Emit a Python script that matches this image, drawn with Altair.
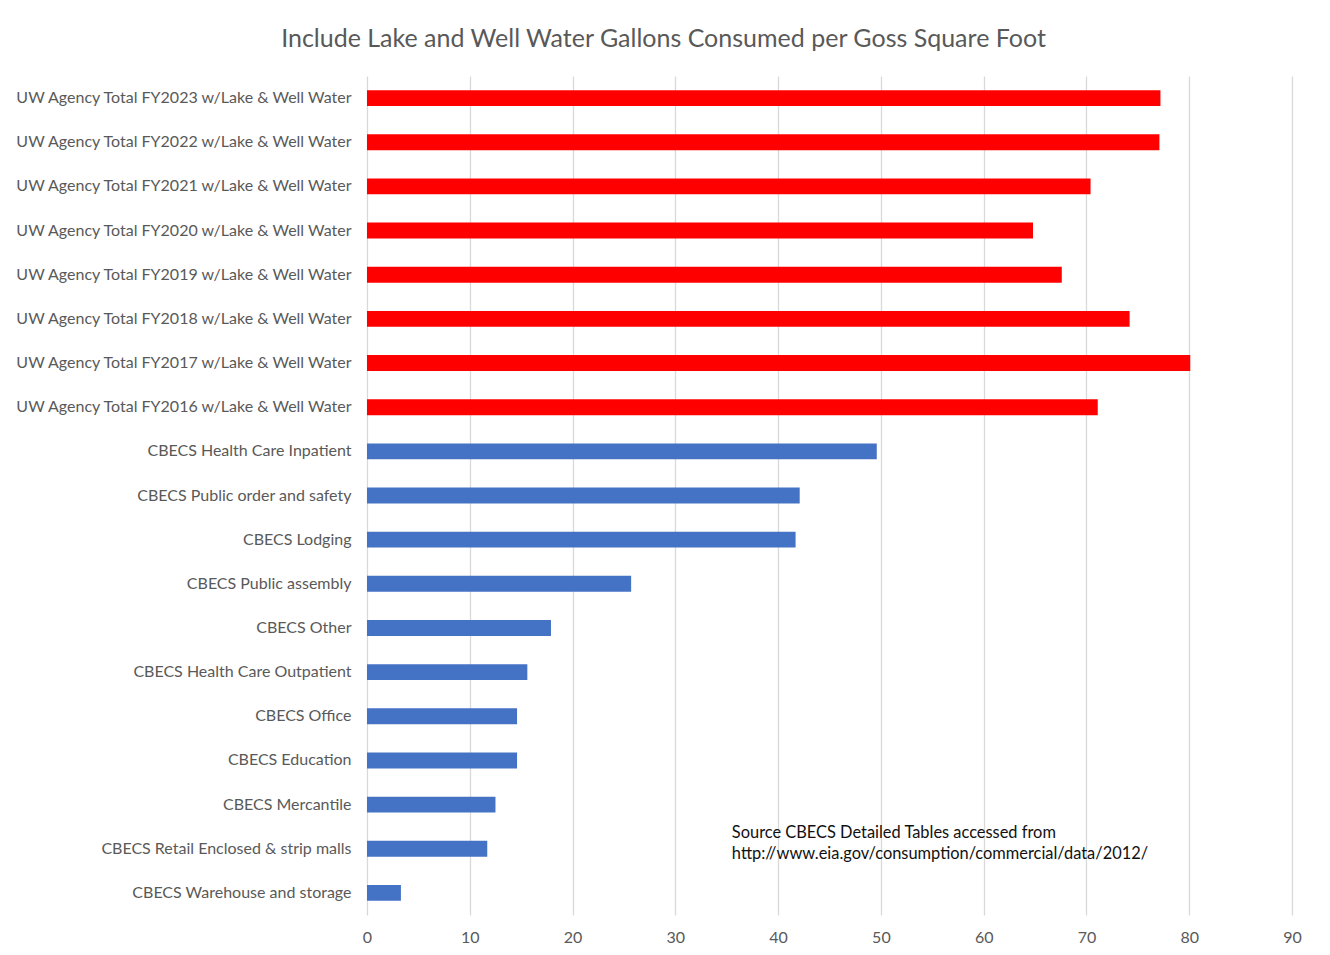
import altair as alt
import pandas as pd

categories = [
    "UW Agency Total FY2023 w/Lake & Well Water",
    "UW Agency Total FY2022 w/Lake & Well Water",
    "UW Agency Total FY2021 w/Lake & Well Water",
    "UW Agency Total FY2020 w/Lake & Well Water",
    "UW Agency Total FY2019 w/Lake & Well Water",
    "UW Agency Total FY2018 w/Lake & Well Water",
    "UW Agency Total FY2017 w/Lake & Well Water",
    "UW Agency Total FY2016 w/Lake & Well Water",
    "CBECS Health Care Inpatient",
    "CBECS Public order and safety",
    "CBECS Lodging",
    "CBECS Public assembly",
    "CBECS Other",
    "CBECS Health Care Outpatient",
    "CBECS Office",
    "CBECS Education",
    "CBECS Mercantile",
    "CBECS Retail Enclosed & strip malls",
    "CBECS Warehouse and storage",
]
values = [77.2, 77.1, 70.4, 64.8, 67.6, 74.2, 80.1, 71.1,
          49.6, 42.1, 41.7, 25.7, 17.9, 15.6, 14.6, 14.6, 12.5, 11.7, 3.3]
groups = ["UW"] * 8 + ["CBECS"] * 11
x_ticks = [0, 10, 20, 30, 40, 50, 60, 70, 80, 90]
note_lines = ["Source CBECS Detailed Tables accessed from",
              "http://www.eia.gov/consumption/commercial/data/2012/"]

df = pd.DataFrame({"category": categories, "value": values, "group": groups})
note_df = pd.DataFrame({"note": [" ".join(note_lines)]})

FONT = "Lato"
GRAY = "#595959"

y_enc = alt.Y("category:N", sort=categories, title=None,
              scale=alt.Scale(paddingInner=0.64, paddingOuter=0.32),
              axis=alt.Axis(ticks=False, domain=False, labelFontSize=16,
                            labelColor=GRAY, labelFont=FONT, labelPadding=16,
                            labelLimit=400, grid=False))
x_enc = alt.X("value:Q", title=None,
              scale=alt.Scale(domain=[0, 90], nice=False),
              axis=alt.Axis(values=x_ticks, ticks=False, domain=False,
                            grid=True, gridColor="#d9d9d9", gridWidth=1.3,
                            labelFontSize=16, labelColor=GRAY, labelFont=FONT,
                            labelPadding=14, labelFlush=False))

bars = alt.Chart(df).mark_bar().encode(
    x=x_enc,
    y=y_enc,
    color=alt.Color("group:N", legend=None,
                    scale=alt.Scale(domain=["UW", "CBECS"],
                                    range=["#FF0000", "#4472C4"])),
)

note = alt.Chart(note_df).mark_text(
    text=note_lines, align="left", baseline="middle", fontSize=16.4,
    font=FONT, color="#111111", lineHeight=21, dy=-16,
).encode(
    x=alt.datum(35.5),
    y=alt.datum("CBECS Retail Enclosed & strip malls"),
)

chart = alt.layer(bars, note).properties(
    width=925,
    height=839,
    autosize=alt.AutoSizeParams(type="none"),
    padding={"left": 359, "top": 68, "right": 22, "bottom": 30},
    title=alt.TitleParams(
        "Include Lake and Well Water Gallons Consumed per Goss Square Foot",
        fontSize=25, font=FONT, color=GRAY, fontWeight="normal",
        anchor="middle", dx=-166, offset=24,
    ),
).configure_view(stroke=None)

chart.save("out.html", embed_options={"renderer": "svg", "actions": False})
